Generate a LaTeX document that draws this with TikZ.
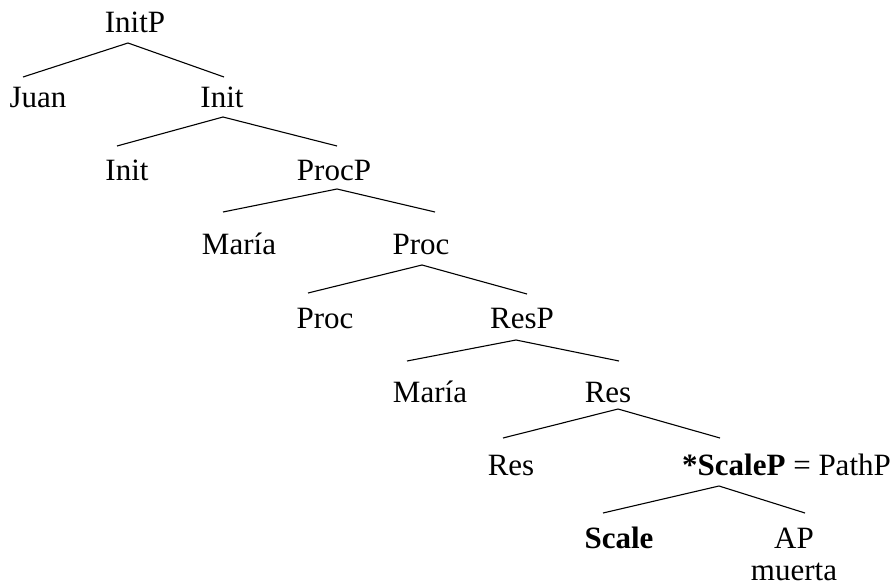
\documentclass[tikz,border=0pt]{standalone}
\usepackage{fontspec}
\setmainfont{Liberation Serif}
\begin{document}
\begin{tikzpicture}[x=1pt, y=-1pt,
  lbl/.style={font=\fontsize{31}{37}\selectfont, inner sep=0pt, anchor=base},
  branch/.style={line width=1.1pt, line join=miter}]
\useasboundingbox (0,0) rectangle (896,586);

% labels, placed on their baselines
\node[lbl] (initP)  at (135,33)  {InitP};
\node[lbl] (juan)   at (38,107)  {Juan};
\node[lbl] (init1)  at (222,107) {Init};
\node[lbl] (init2)  at (127,180) {Init};
\node[lbl] (procP)  at (334,180) {ProcP};
\node[lbl] (maria1) at (239,254) {María};
\node[lbl] (proc1)  at (421,254) {Proc};
\node[lbl] (proc2)  at (325,328) {Proc};
\node[lbl] (resP)   at (522,328) {ResP};
\node[lbl] (maria2) at (430,402) {María};
\node[lbl] (res1)   at (608,402) {Res};
\node[lbl] (res2)   at (511,475) {Res};
\node[lbl, anchor=base west] (scaleP) at (682,475) {\textbf{*ScaleP} = PathP};
\node[lbl] (scale)  at (619,548) {\textbf{Scale}};
\node[lbl] (ap)     at (794,548) {AP};
\node[lbl] (muerta) at (794,580) {muerta};

% branches: left daughter -- mother -- right daughter
\draw[branch] ([shift={(-15,-30)}]juan.base) -- ([shift={(-7,10)}]initP.base) -- ([shift={(2,-30)}]init1.base);
\draw[branch] ([shift={(-10,-34)}]init2.base) -- ([shift={(1,10)}]init1.base) -- ([shift={(3,-34)}]procP.base);
\draw[branch] ([shift={(-16,-42)}]maria1.base) -- ([shift={(3,9)}]procP.base) -- ([shift={(14,-42)}]proc1.base);
\draw[branch] ([shift={(-17,-35)}]proc2.base) -- ([shift={(1,11)}]proc1.base) -- ([shift={(5,-34)}]resP.base);
\draw[branch] ([shift={(-23,-41)}]maria2.base) -- ([shift={(-6,12)}]resP.base) -- ([shift={(11,-41)}]res1.base);
\draw[branch] ([shift={(-8,-37)}]res2.base) -- ([shift={(10,7)}]res1.base) -- ([shift={(38,-37)}]scaleP.base west);
\draw[branch] ([shift={(-16,-35)}]scale.base) -- ([shift={(37,11)}]scaleP.base west) -- ([shift={(11,-35)}]ap.base);
\end{tikzpicture}
\end{document}
